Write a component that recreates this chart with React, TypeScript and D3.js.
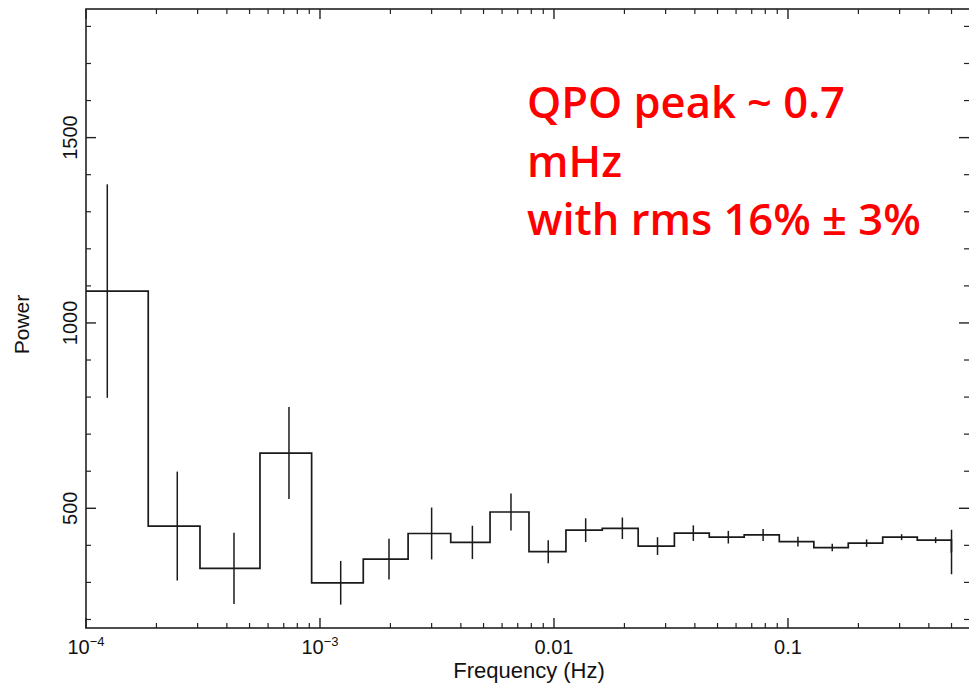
import React from "react";
import * as d3 from "d3";

// Bin edges (Hz) of the rebinned power spectrum
const binEdges: number[] = [
  0.824e-4, 1.845e-4, 3.07e-4, 5.54e-4, 9.21e-4, 1.531e-3, 2.38e-3, 3.62e-3,
  5.33e-3, 7.82e-3, 0.01125, 0.01608, 0.0229, 0.0327, 0.0461, 0.065, 0.0918,
  0.129, 0.181, 0.254, 0.357, 0.4995, 0.5005,
];
// Frequencies at which error bars are drawn (Hz)
const freqs: number[] = [
  1.233e-4, 2.455e-4, 4.29e-4, 7.37e-4, 1.226e-3, 1.972e-3, 3.0e-3, 4.48e-3,
  6.55e-3, 9.45e-3, 0.01366, 0.0196, 0.0277, 0.0394, 0.0556, 0.0783, 0.1103,
  0.1546, 0.2168, 0.306, 0.4276, 0.5,
];
const powers: number[] = [
  1086, 452, 338, 649, 299, 363, 432, 408, 490, 383, 441, 446, 398, 433, 422,
  428, 410, 394, 406, 422, 414, 382,
];
const errors: number[] = [
  288, 147, 96, 124, 59, 55, 70, 45, 50, 31, 32, 29, 24, 21, 17, 16, 13, 10,
  10, 8, 8, 60,
];

const xMajorTicks: number[] = [1e-4, 1e-3, 1e-2, 1e-1];
const xTickLabels: { base: string; exp?: string }[] = [
  { base: "10", exp: "−4" },
  { base: "10", exp: "−3" },
  { base: "0.01" },
  { base: "0.1" },
];
const yMajorTicks: number[] = [500, 1000, 1500];
const yMinorTicks: number[] = [200, 300, 400, 600, 700, 800, 900, 1100, 1200, 1300, 1400, 1600, 1700, 1800];

const annotation: string[] = ["QPO peak ~ 0.7", "mHz", "with rms 16% ± 3%"];

const xDomain: [number, number] = [1e-4, 0.588];
const yDomain: [number, number] = [177, 1847];

export default function App() {
  const W = 969;
  const H = 686;
  const left = 86, right = 968, top = 9, bottom = 628;
  const x = d3.scaleLog().domain(xDomain).range([left, right]);
  const y = d3.scaleLinear().domain(yDomain).range([bottom, top]);

  const stepPts: [number, number][] = [];
  powers.forEach((p, i) => {
    stepPts.push([x(binEdges[i]), y(p)]);
    stepPts.push([x(binEdges[i + 1]), y(p)]);
  });
  const line = d3.line<[number, number]>().x((d) => d[0]).y((d) => d[1]);

  const xMinor: number[] = [];
  for (let e = -4; e <= -1; e++) {
    for (let m = 2; m <= 9; m++) {
      const v = m * Math.pow(10, e);
      if (v < xDomain[1]) xMinor.push(v);
    }
  }

  const axisColor = "#222";
  const font = "'Liberation Sans', Arial, Helvetica, sans-serif";

  return (
    <svg width={W} height={H} style={{ position: "absolute", left: 0, top: 0, background: "#fff" }}>
      <defs>
        <clipPath id="plotclip">
          <rect x={left} y={top} width={right - left} height={bottom - top} />
        </clipPath>
      </defs>
      <rect x={0} y={0} width={W} height={H} fill="#fff" />
      {/* frame (right side falls just outside the picture) */}
      <rect x={left} y={top} width={right - left + 3} height={bottom - top} fill="none" stroke={axisColor} strokeWidth={1.6} />
      {/* x ticks */}
      {xMajorTicks.map((t) => (
        <g key={"xM" + t}>
          <line x1={x(t)} x2={x(t)} y1={bottom} y2={bottom - 10} stroke={axisColor} strokeWidth={1.4} />
          <line x1={x(t)} x2={x(t)} y1={top} y2={top + 10} stroke={axisColor} strokeWidth={1.4} />
        </g>
      ))}
      {xMinor.map((t) => (
        <g key={"xm" + t}>
          <line x1={x(t)} x2={x(t)} y1={bottom} y2={bottom - 5} stroke={axisColor} strokeWidth={1.2} />
          <line x1={x(t)} x2={x(t)} y1={top} y2={top + 5} stroke={axisColor} strokeWidth={1.2} />
        </g>
      ))}
      {/* y ticks */}
      {yMajorTicks.map((t) => (
        <g key={"yM" + t}>
          <line x1={left} x2={left + 10} y1={y(t)} y2={y(t)} stroke={axisColor} strokeWidth={1.4} />
          <line x1={W} x2={W - 10} y1={y(t)} y2={y(t)} stroke={axisColor} strokeWidth={1.4} />
        </g>
      ))}
      {yMinorTicks.map((t) => (
        <g key={"ym" + t}>
          <line x1={left} x2={left + 5} y1={y(t)} y2={y(t)} stroke={axisColor} strokeWidth={1.2} />
          <line x1={W} x2={W - 5} y1={y(t)} y2={y(t)} stroke={axisColor} strokeWidth={1.2} />
        </g>
      ))}
      {/* x tick labels */}
      {xMajorTicks.map((t, i) => (
        <text key={"xl" + t} x={x(t)} y={654} textAnchor="middle" fontFamily={font} fontSize={20} fill="#111">
          {xTickLabels[i].base}
          {xTickLabels[i].exp ? (
            <tspan dy={-8} fontSize={13}>{xTickLabels[i].exp}</tspan>
          ) : null}
        </text>
      ))}
      {/* y tick labels */}
      {yMajorTicks.map((t) => (
        <text key={"yl" + t} transform={`translate(77,${y(t)}) rotate(-90)`} textAnchor="middle" fontFamily={font} fontSize={20} fill="#111">
          {t}
        </text>
      ))}
      {/* axis titles */}
      <text x={529} y={678} textAnchor="middle" fontFamily={font} fontSize={22} fill="#111">
        Frequency (Hz)
      </text>
      <text transform={`translate(29,${(top + bottom) / 2 + 6}) rotate(-90)`} textAnchor="middle" fontFamily={font} fontSize={21} fill="#111">
        Power
      </text>
      {/* data */}
      <g clipPath="url(#plotclip)">
        <path d={line(stepPts) || ""} fill="none" stroke="#1a1a1a" strokeWidth={1.7} />
        {freqs.map((f, i) => (
          <line key={"e" + i} x1={x(f)} x2={x(f)} y1={y(powers[i] - errors[i])} y2={y(powers[i] + errors[i])} stroke="#1a1a1a" strokeWidth={1.5} />
        ))}
      </g>
      {/* annotation */}
      {annotation.map((s, i) => (
        <text key={"a" + i} x={527} y={118 + i * 58.5} fontFamily="'Open Sans', 'Noto Sans', sans-serif" fontWeight={600} fontSize={43.5} fill="#ff0000">
          {s}
        </text>
      ))}
    </svg>
  );
}
